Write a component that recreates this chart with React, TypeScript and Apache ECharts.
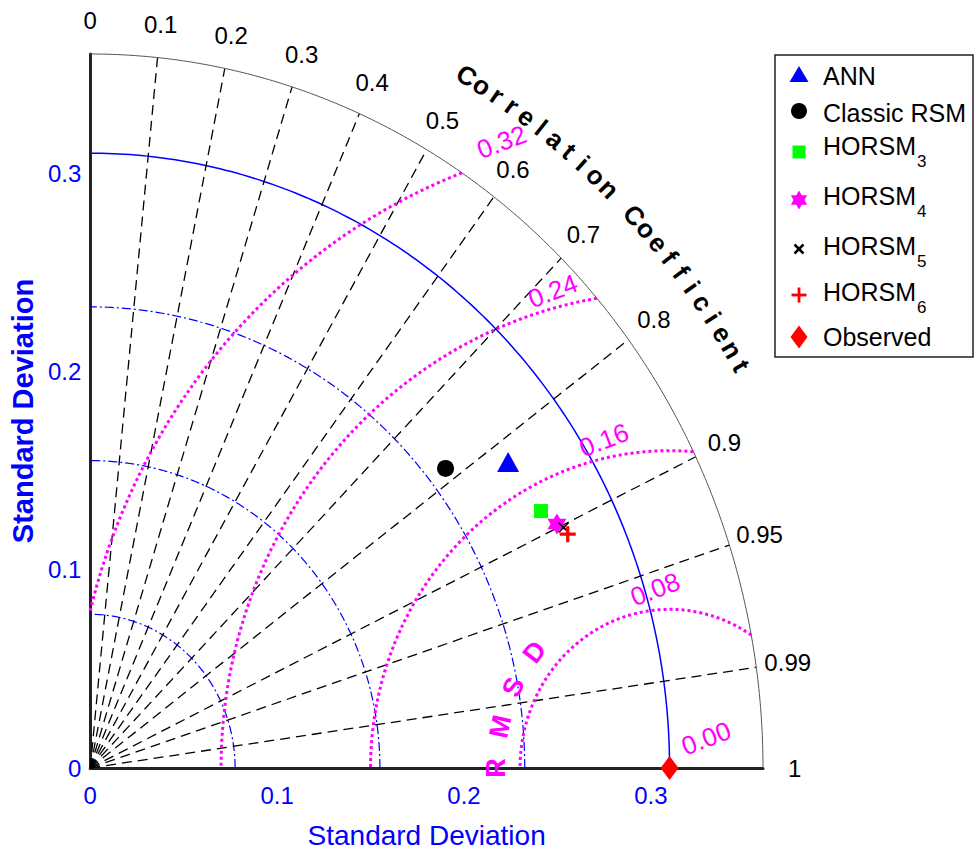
import React, { useEffect, useRef } from 'react';
import * as echarts from 'echarts';

// ---------- data ----------
const modelNames = ['ANN', 'Classic RSM', 'HORSM', 'HORSM', 'HORSM', 'HORSM'];
const modelSubs = ['', '', '3', '4', '5', '6'];
const modelStd = [0.2717, 0.2428, 0.2738, 0.2784, 0.2808, 0.2814];
const modelCorr = [0.823, 0.783, 0.881, 0.897, 0.902, 0.908];
const observedName = 'Observed';
const observedStd = 0.31;
const corrTicks = [0, 0.1, 0.2, 0.3, 0.4, 0.5, 0.6, 0.7, 0.8, 0.9, 0.95, 0.99, 1];
const corrLines = [0.1, 0.2, 0.3, 0.4, 0.5, 0.6, 0.7, 0.8, 0.9, 0.95, 0.99];
const stdRatios = [0.25, 0.5, 0.75];
const rmsdLevels = [0.08, 0.16, 0.24, 0.32];
const rmsdLabelValues = [0, 0.08, 0.16, 0.24, 0.32];
const axisTicks = [0, 0.1, 0.2, 0.3];
const maxStd = 0.36;
const corrTitle = 'Correlation Coefficient';
const rmsdTitle = 'RMSD';

// ---------- styles ----------
const FONT = '"Liberation Sans", Arial, Helvetica, sans-serif';
const BLUE = '#0000ff';
const MAGENTA = '#ff00ff';
const modelStyles = [
  { symbol: 'triangle', size: [22, 20], color: '#0000ff', kind: 'triangle' },
  { symbol: 'circle', size: 17, color: '#000000', kind: 'circle' },
  { symbol: 'rect', size: 14, color: '#00ff00', kind: 'square' },
  { symbol: 'path://M0,-10 L8.66,5 L-8.66,5 Z M0,10 L-8.66,-5 L8.66,-5 Z', size: [19, 21], color: '#ff00ff', kind: 'star' },
  { symbol: 'path://M-5,-4 L-4,-5 L5,4 L4,5 Z M4,-5 L5,-4 L-4,5 L-5,4 Z', size: [11, 11], color: '#000000', kind: 'x' },
  { symbol: 'path://M-1.6,-8 L1.6,-8 L1.6,8 L-1.6,8 Z M-8,-1.6 L8,-1.6 L8,1.6 L-8,1.6 Z', size: [16, 16], color: '#ff0000', kind: 'plus' },
];
const observedStyle = { symbol: 'diamond', size: [18, 24], color: '#ff0000', kind: 'diamond' };

const deg = Math.PI / 180;

function arcPoints(cx: number, cy: number, r: number, a0: number, a1: number, n = 160) {
  const pts: number[][] = [];
  for (let i = 0; i <= n; i++) {
    const a = (a0 + ((a1 - a0) * i) / n) * deg;
    pts.push([cx + r * Math.cos(a), cy + r * Math.sin(a)]);
  }
  return pts;
}

function tickFmt(v: number) {
  const r = Math.round(v * 1000) / 1000;
  if (!axisTicks.some((t) => Math.abs(t - r) < 1e-6)) return '';
  return r === 0 ? '0' : r.toFixed(1);
}

function buildOption() {
  const series: any[] = [];
  const lineBase = { type: 'line', showSymbol: false, symbol: 'none', silent: true, clip: false, animation: false };
  stdRatios.forEach((f) => {
    series.push({ ...lineBase, data: arcPoints(0, 0, observedStd * f, 0, 90), lineStyle: { color: BLUE, width: 1.2, type: [9, 3, 2, 3] }, z: 2 });
  });
  series.push({ ...lineBase, data: arcPoints(0, 0, observedStd, 0, 90), lineStyle: { color: BLUE, width: 1.5, type: 'solid' }, z: 2 });
  corrLines.forEach((c) => {
    series.push({ ...lineBase, data: [[0, 0], [maxStd * c, maxStd * Math.sqrt(1 - c * c)]], lineStyle: { color: '#000', width: 1.3, type: [10, 6] }, z: 2 });
  });
  series.push({ ...lineBase, data: arcPoints(0, 0, maxStd, 0, 90, 240), lineStyle: { color: '#555', width: 1 }, z: 2 });
  const a = observedStd;
  rmsdLevels.forEach((r) => {
    const cEnd = (maxStd * maxStd - a * a - r * r) / (2 * a * r);
    const aEnd = Math.acos(Math.max(-1, Math.min(1, cEnd))) / deg;
    const aStart = r <= a ? 180 : Math.acos(-a / r) / deg;
    series.push({ ...lineBase, data: arcPoints(a, 0, r, aEnd, aStart), lineStyle: { color: MAGENTA, width: 3, type: [3, 3] }, z: 3 });
  });
  modelNames.forEach((nm, i) => {
    const s = modelStyles[i];
    const c = modelCorr[i];
    const sd = modelStd[i];
    series.push({
      type: 'scatter',
      name: nm + modelSubs[i],
      data: [[sd * c, sd * Math.sqrt(1 - c * c)]],
      symbol: s.symbol,
      symbolSize: s.size,
      itemStyle: { color: s.color, opacity: 1 },
      clip: false,
      z: 5 + i,
      silent: true,
    });
  });
  series.push({
    type: 'scatter',
    name: observedName,
    data: [[observedStd, 0]],
    symbol: observedStyle.symbol,
    symbolSize: observedStyle.size,
    itemStyle: { color: observedStyle.color, opacity: 1 },
    clip: false,
    z: 12,
    silent: true,
  });

  return {
    animation: false,
    textStyle: { fontFamily: FONT },
    grid: { left: 89, top: 54, width: 674, height: 718, containLabel: false },
    xAxis: {
      type: 'value', min: 0, max: maxStd, interval: 0.1,
      axisLine: { show: true, onZero: false, lineStyle: { color: '#222', width: 3 } },
      axisTick: { show: false }, splitLine: { show: false },
      axisLabel: { color: BLUE, fontSize: 24, margin: 15, fontFamily: FONT, formatter: tickFmt, showMaxLabel: false },
      name: 'Standard Deviation', nameLocation: 'middle', nameGap: 53,
      nameTextStyle: { color: BLUE, fontSize: 28, fontFamily: FONT },
    },
    yAxis: {
      type: 'value', min: 0, max: maxStd, interval: 0.1,
      axisLine: { show: true, onZero: false, lineStyle: { color: '#222', width: 3 } },
      axisTick: { show: false }, splitLine: { show: false },
      axisLabel: { color: BLUE, fontSize: 24, margin: 9, fontFamily: FONT, formatter: tickFmt, showMaxLabel: false },
      name: 'Standard Deviation', nameLocation: 'middle', nameGap: 47,
      nameTextStyle: { color: BLUE, fontSize: 29, fontWeight: 'bold', fontFamily: FONT },
    },
    series,
  };
}

function buildGraphic(chart: any) {
  const px = (x: number, y: number) => chart.convertToPixel({ gridIndex: 0 }, [x, y]) as number[];
  const p0 = px(0, 0);
  const p1 = px(1, 1);
  const sx = p1[0] - p0[0];
  const sy = p0[1] - p1[1];
  const rotAt = (phi: number) => Math.atan2(-sy * Math.cos(phi * deg), sx * Math.sin(phi * deg));
  const els: any[] = [];
  const txt = (text: string, p: number[], size: number, color: string, rot = 0, weight = 'normal') => ({
    type: 'text', x: p[0], y: p[1], rotation: rot, z: 20, silent: true,
    style: { text, fill: color, fontSize: size, fontWeight: weight, fontFamily: FONT, align: 'center', verticalAlign: 'middle' },
  });
  const rl = 0.377;
  corrTicks.forEach((c) => {
    const th = Math.acos(c);
    els.push(txt(String(c), px(rl * Math.cos(th), rl * Math.sin(th)), 24, '#000'));
  });
  const n = corrTitle.length;
  for (let i = 0; i < n; i++) {
    const ch = corrTitle[i];
    if (ch === ' ') continue;
    const th = 60 - (i * (60 - 30.2)) / (n - 1);
    const p = px(0.403 * Math.cos(th * deg), 0.403 * Math.sin(th * deg));
    els.push(txt(ch, p, 26, '#000', rotAt(th), 'bold'));
  }
  const dirA = 110 * deg;
  rmsdLabelValues.forEach((r) => {
    const p = px(observedStd + r * Math.cos(dirA) + 0.0196, r * Math.sin(dirA) + 0.015);
    els.push(txt(r.toFixed(2), p, 26, MAGENTA, 21 * deg));
  });
  const rAng = [180, 167, 154, 141];
  rmsdTitle.split('').forEach((ch, i) => {
    const phi = rAng[i];
    const p = px(observedStd + 0.093 * Math.cos(phi * deg), 0.093 * Math.sin(phi * deg));
    els.push(txt(ch, p, 27, MAGENTA, rotAt(phi), 'bold'));
  });

  // legend
  const ctx = document.createElement('canvas').getContext('2d') as CanvasRenderingContext2D;
  ctx.font = `25px ${FONT}`;
  els.push({ type: 'rect', shape: { x: 775, y: 55, width: 198, height: 302 }, style: { fill: '#fff', stroke: '#222', lineWidth: 1.5 }, z: 15, silent: true });
  const markerY = [75, 111, 152, 200, 249, 295, 337];
  const textY = [76, 113, 146, 196, 246, 292, 337];
  const mx = 799;
  const tx = 823;
  const items = modelNames.map((nm, i) => ({ nm, sub: modelSubs[i], st: modelStyles[i] }));
  items.push({ nm: observedName, sub: '', st: observedStyle as any });
  items.forEach((it, i) => {
    const cy = markerY[i];
    const col = it.st.color;
    const k = it.st.kind;
    if (k === 'triangle') els.push({ type: 'polygon', shape: { points: [[mx, cy - 9], [mx + 9.5, cy + 7], [mx - 9.5, cy + 7]] }, style: { fill: col }, z: 16 });
    if (k === 'circle') els.push({ type: 'circle', shape: { cx: mx, cy, r: 8 }, style: { fill: col }, z: 16 });
    if (k === 'square') els.push({ type: 'rect', shape: { x: mx - 6.5, y: cy - 6.5, width: 13, height: 13 }, style: { fill: col }, z: 16 });
    if (k === 'star') {
      els.push({ type: 'polygon', shape: { points: [[mx, cy - 9.5], [mx + 8.2, cy + 4.75], [mx - 8.2, cy + 4.75]] }, style: { fill: col }, z: 16 });
      els.push({ type: 'polygon', shape: { points: [[mx, cy + 9.5], [mx + 8.2, cy - 4.75], [mx - 8.2, cy - 4.75]] }, style: { fill: col }, z: 16 });
    }
    if (k === 'x') {
      els.push({ type: 'line', shape: { x1: mx - 4.5, y1: cy - 4.5, x2: mx + 4.5, y2: cy + 4.5 }, style: { stroke: col, lineWidth: 2.5 }, z: 16 });
      els.push({ type: 'line', shape: { x1: mx + 4.5, y1: cy - 4.5, x2: mx - 4.5, y2: cy + 4.5 }, style: { stroke: col, lineWidth: 2.5 }, z: 16 });
    }
    if (k === 'plus') {
      els.push({ type: 'line', shape: { x1: mx - 7.5, y1: cy, x2: mx + 7.5, y2: cy }, style: { stroke: col, lineWidth: 2.8 }, z: 16 });
      els.push({ type: 'line', shape: { x1: mx, y1: cy - 7.5, x2: mx, y2: cy + 7.5 }, style: { stroke: col, lineWidth: 2.8 }, z: 16 });
    }
    if (k === 'diamond') els.push({ type: 'polygon', shape: { points: [[mx, cy - 11.5], [mx + 8.5, cy], [mx, cy + 11.5], [mx - 8.5, cy]] }, style: { fill: col }, z: 16 });
    els.push({ type: 'text', x: tx, y: textY[i], z: 16, style: { text: it.nm, fill: '#000', fontSize: 25, fontFamily: FONT, align: 'left', verticalAlign: 'middle' } });
    if (it.sub) {
      const w = ctx.measureText(it.nm).width;
      els.push({ type: 'text', x: tx + w + 1, y: textY[i] + 15, z: 16, style: { text: it.sub, fill: '#000', fontSize: 17, fontFamily: FONT, align: 'left', verticalAlign: 'middle' } });
    }
  });
  return els;
}

export default function App() {
  const ref = useRef<HTMLDivElement>(null);
  useEffect(() => {
    if (!ref.current) return;
    const chart = echarts.init(ref.current, null, { renderer: 'svg' });
    chart.setOption(buildOption() as any);
    chart.setOption({ graphic: buildGraphic(chart) } as any);
    return () => chart.dispose();
  }, []);
  return <div ref={ref} style={{ position: 'fixed', left: 0, top: 0, width: 976, height: 854, background: '#fff' }} />;
}
